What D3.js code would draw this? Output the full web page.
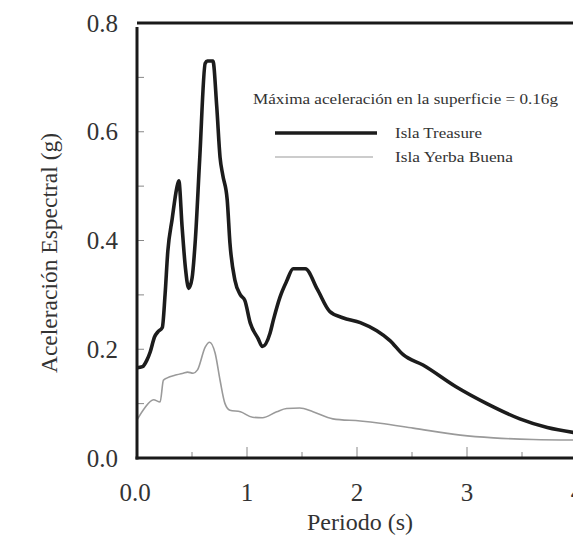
<!DOCTYPE html>
<html>
<head>
<meta charset="utf-8">
<script src="https://cdn.jsdelivr.net/npm/d3@7"></script>
<style>
html,body{margin:0;padding:0;background:#fff;}
svg{display:block;}
text{font-family:"Liberation Serif","DejaVu Serif",serif;}
</style>
</head>
<body>
<svg id="chart" width="573" height="540"></svg>
<script>
// Period (s) and spectral acceleration (g)
const treasurePeriod = [0.00,0.05,0.09,0.12,0.16,0.19,0.23,0.255,0.28,0.32,0.36,0.38,0.41,0.44,0.47,0.50,0.53,0.57,0.62,0.64,0.69,0.725,0.755,0.78,0.82,0.845,0.89,0.94,0.98,1.03,1.10,1.14,1.21,1.24,1.30,1.36,1.42,1.53,1.64,1.75,1.87,2.03,2.18,2.30,2.42,2.60,2.90,3.18,3.48,3.73,4.00];
const treasureValue  = [0.166,0.168,0.180,0.195,0.223,0.232,0.240,0.300,0.380,0.440,0.495,0.510,0.425,0.350,0.312,0.330,0.400,0.550,0.726,0.730,0.730,0.646,0.553,0.520,0.475,0.395,0.327,0.300,0.290,0.248,0.220,0.205,0.230,0.254,0.296,0.325,0.348,0.348,0.310,0.270,0.258,0.249,0.234,0.216,0.190,0.171,0.131,0.100,0.072,0.056,0.046];
const yerbaPeriod = [0.00,0.07,0.15,0.21,0.24,0.27,0.36,0.42,0.46,0.51,0.55,0.62,0.66,0.71,0.755,0.80,0.845,0.94,1.05,1.14,1.27,1.36,1.48,1.60,1.78,2.03,2.21,2.51,2.94,3.24,3.60,4.00];
const yerbaValue  = [0.070,0.092,0.107,0.103,0.143,0.147,0.153,0.156,0.158,0.156,0.162,0.204,0.213,0.193,0.143,0.100,0.088,0.085,0.075,0.074,0.085,0.091,0.092,0.085,0.072,0.068,0.064,0.055,0.042,0.037,0.034,0.033];
const yTicks = [0.0,0.2,0.4,0.6,0.8];
const xTicks = [0,1,2,3,4];
const xTickLabels = ["0.0","1","2","3","4"];
const seriesNames = ["Isla Treasure","Isla Yerba Buena"];
const noteText = "Máxima aceleración en la superficie = 0.16g";
const xTitle = "Periodo (s)";
const yTitle = "Aceleración Espectral (g)";

const svg = d3.select("#chart");
const x = d3.scaleLinear().domain([0,4]).range([137,577]);
const y = d3.scaleLinear().domain([0,0.8]).range([458,23]);

// minor ticks
const g = svg.append("g");
g.selectAll(".yt").data(d3.range(1,8).map(i=>i/10)).join("line")
  .attr("x1",x(0)).attr("x2",x(0)+7).attr("y1",d=>y(d)).attr("y2",d=>y(d))
  .attr("stroke","#888").attr("stroke-width",1);
g.selectAll(".xt").data(d3.range(1,8).map(i=>i/2)).join("line")
  .attr("x1",d=>x(d)).attr("x2",d=>x(d))
  .attr("y1",y(0)).attr("y2",d=>y(0)-(Number.isInteger(d)?11:6))
  .attr("stroke","#888").attr("stroke-width",1);

// series
const line = d3.line().x(d=>x(d[0])).y(d=>y(d[1])).curve(d3.curveMonotoneX);
svg.append("path").datum(yerbaPeriod.map((p,i)=>[p,yerbaValue[i]]))
  .attr("d",line).attr("fill","none").attr("stroke","#9a9a9a").attr("stroke-width",1.6);
svg.append("path").datum(treasurePeriod.map((p,i)=>[p,treasureValue[i]]))
  .attr("d",line).attr("fill","none").attr("stroke","#1c1c1c").attr("stroke-width",3.6).attr("stroke-linejoin","round");

// frame
svg.append("line").attr("x1",x(0)).attr("x2",573).attr("y1",y(0.8)).attr("y2",y(0.8)).attr("stroke","#1a1a1a").attr("stroke-width",3);
svg.append("line").attr("x1",x(0)).attr("x2",x(0)).attr("y1",y(0.8)+4).attr("y2",y(0)+1.5).attr("stroke","#1a1a1a").attr("stroke-width",3);
svg.append("line").attr("x1",x(0)-1.5).attr("x2",573).attr("y1",y(0)).attr("y2",y(0)).attr("stroke","#1a1a1a").attr("stroke-width",3);

// tick labels
svg.selectAll(".yl").data(yTicks).join("text")
  .attr("x",118).attr("y",d=>y(d)+8.5).attr("text-anchor","end")
  .attr("font-size",25).attr("fill","#333").text(d=>d.toFixed(1));
svg.selectAll(".xl").data(xTicks).join("text")
  .attr("x",d=>x(d)-(d===0?2:0)).attr("y",501).attr("text-anchor","middle")
  .attr("font-size",25).attr("fill","#333").text((d,i)=>xTickLabels[i]);

// titles
svg.append("text").attr("x",360).attr("y",530).attr("text-anchor","middle")
  .attr("font-size",24).attr("fill","#333").text(xTitle);
svg.append("text").attr("transform","translate(57,253) rotate(-90)").attr("text-anchor","middle")
  .attr("font-size",23.5).attr("fill","#333").text(yTitle);

// note & legend
svg.append("text").attr("x",253).attr("y",104).attr("font-size",15)
  .attr("textLength",305).attr("lengthAdjust","spacingAndGlyphs")
  .attr("fill","#333").text(noteText);
svg.append("line").attr("x1",275).attr("x2",377).attr("y1",133).attr("y2",133).attr("stroke","#1c1c1c").attr("stroke-width",3.6);
svg.append("line").attr("x1",275).attr("x2",373).attr("y1",157).attr("y2",157).attr("stroke","#9a9a9a").attr("stroke-width",1.2);
svg.append("text").attr("x",395).attr("y",138).attr("font-size",15)
  .attr("textLength",87).attr("lengthAdjust","spacingAndGlyphs").attr("fill","#333").text(seriesNames[0]);
svg.append("text").attr("x",395).attr("y",162).attr("font-size",15)
  .attr("textLength",118).attr("lengthAdjust","spacingAndGlyphs").attr("fill","#333").text(seriesNames[1]);
</script>
</body>
</html>
